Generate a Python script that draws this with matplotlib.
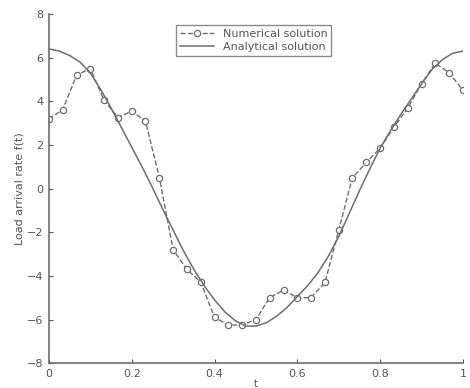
import numpy as np
import matplotlib
matplotlib.use("Agg")
import matplotlib.pyplot as plt

# numerical solution (t step of 1/30)
t_num = [0.0, 0.033, 0.067, 0.1, 0.133, 0.167, 0.2, 0.233, 0.267, 0.3,
         0.333, 0.367, 0.4, 0.433, 0.467, 0.5, 0.533, 0.567, 0.6, 0.633,
         0.667, 0.7, 0.733, 0.767, 0.8, 0.833, 0.867, 0.9, 0.933, 0.967, 1.0]
f_num = [3.2, 3.6, 5.2, 5.5, 4.05, 3.25, 3.55, 3.1, 0.5, -2.8,
         -3.7, -4.3, -5.9, -6.25, -6.25, -6.0, -5.0, -4.65, -5.0, -5.0,
         -4.3, -1.9, 0.5, 1.2, 1.85, 2.8, 3.7, 4.8, 5.75, 5.3, 4.5]

# analytical solution
t_ana = [0.0, 0.025, 0.05, 0.075, 0.1, 0.125, 0.15, 0.175, 0.2, 0.225,
         0.25, 0.275, 0.3, 0.325, 0.35, 0.375, 0.4, 0.425, 0.45, 0.475,
         0.5, 0.525, 0.55, 0.575, 0.6, 0.625, 0.65, 0.675, 0.7, 0.725,
         0.75, 0.775, 0.8, 0.825, 0.85, 0.875, 0.9, 0.925, 0.95, 0.975, 1.0]
f_ana = [6.4, 6.3, 6.1, 5.8, 5.3, 4.55, 3.7, 2.8, 1.9, 1.0,
         0.05, -0.95, -1.9, -2.85, -3.7, -4.45, -5.1, -5.65, -6.05, -6.3,
         -6.3, -6.15, -5.85, -5.45, -4.95, -4.45, -3.85, -3.1, -2.2, -1.15,
         -0.1, 0.9, 1.85, 2.65, 3.4, 4.1, 4.8, 5.45, 5.9, 6.2, 6.3]

x_ticks = [0, 0.2, 0.4, 0.6, 0.8, 1]
x_tick_labels = ["0", "0.2", "0.4", "0.6", "0.8", "1"]
y_ticks = [-8, -6, -4, -2, 0, 2, 4, 6, 8]

LINE_COLOR = "#6e6e6e"
TEXT_COLOR = "#555555"

fig = plt.figure(figsize=(4.7, 3.88), dpi=100)
ax = fig.add_axes([0.104, 0.064, 0.881, 0.9])

ax.plot(t_num, f_num, linestyle="--", color=LINE_COLOR, linewidth=1.0,
        marker="o", markersize=4.5, markerfacecolor="white",
        markeredgecolor=LINE_COLOR, markeredgewidth=0.9,
        label="Numerical solution")
ax.plot(t_ana, f_ana, linestyle="-", color=LINE_COLOR, linewidth=1.1,
        label="Analytical solution")

ax.set_xlim(0, 1)
ax.set_ylim(-8, 8)
ax.set_xticks(x_ticks)
ax.set_xticklabels(x_tick_labels)
ax.set_yticks(y_ticks)
ax.tick_params(direction="in", length=3, labelsize=8, colors=TEXT_COLOR, pad=4)

for side in ("top", "right"):
    ax.spines[side].set_visible(False)
for side in ("left", "bottom"):
    ax.spines[side].set_color(LINE_COLOR)
    ax.spines[side].set_linewidth(1.2)

ax.set_ylabel("Load arrival rate f(t)", fontsize=8, color=TEXT_COLOR, labelpad=2)
ax.set_xlabel("t", fontsize=7, color=TEXT_COLOR, labelpad=0)

leg = ax.legend(loc="upper center", bbox_to_anchor=(0.495, 0.985), fontsize=8,
                frameon=True, fancybox=False, handlelength=3.0,
                borderpad=0.35, labelspacing=0.3, labelcolor=TEXT_COLOR)
leg.get_frame().set_edgecolor(LINE_COLOR)
leg.get_frame().set_linewidth(1.0)

fig.savefig("out.png", dpi=100)
plt.close(fig)
